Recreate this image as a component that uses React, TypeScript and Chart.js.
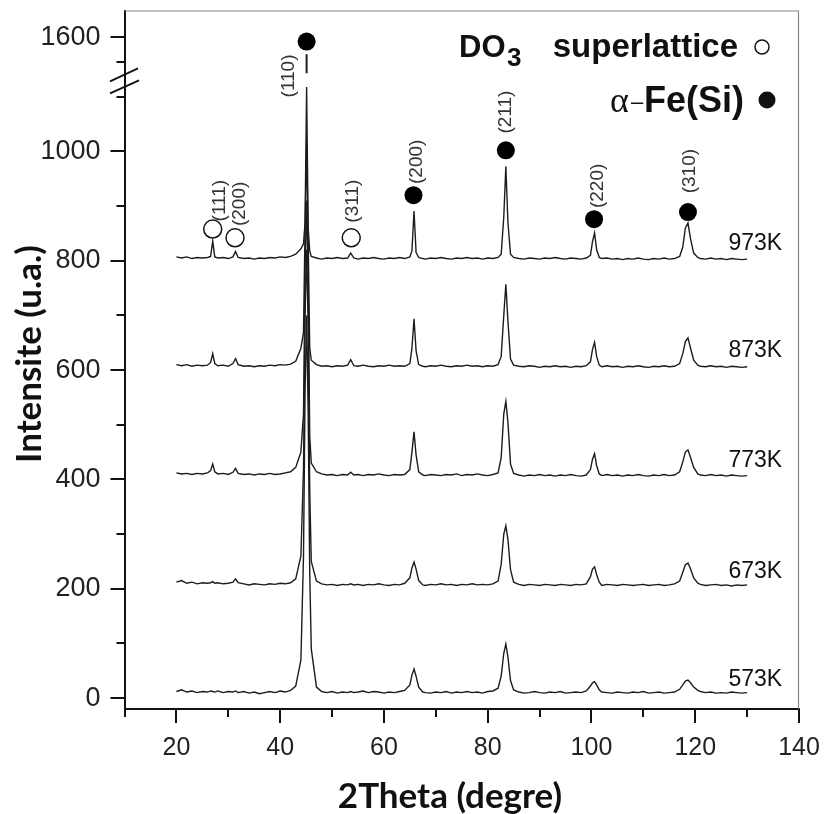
import React, { useEffect, useRef } from 'react';
import { Chart, registerables } from 'chart.js';

Chart.register(...registerables);

// 2-theta sampling grid (degrees)
const TWO_THETA = [
  20, 21, 22, 23, 24, 25, 26, 26.6, 27, 27.4,
  28, 29, 30, 30.9, 31.4, 31.9, 33, 34, 35, 36,
  37, 38, 39, 40, 41, 42, 43, 44, 44.5, 44.8,
  45.1, 45.4, 45.7, 46, 47, 48, 49, 50, 51, 52,
  53, 53.6, 54.2, 55, 56, 57, 58, 59, 60, 61,
  62, 63, 64, 65, 65.4, 65.8, 66.2, 66.7, 67.5, 68,
  69, 70, 71, 72, 73, 74, 75, 76, 77, 78,
  79, 80, 81, 82, 82.6, 83.1, 83.5, 83.9, 84.4, 85,
  86, 87, 88, 89, 90, 91, 92, 93, 94, 95,
  96, 97, 98, 99, 99.8, 100.2, 100.6, 101, 101.5, 102,
  103, 104, 105, 106, 107, 108, 109, 110, 111, 112,
  113, 114, 115, 116, 117, 117.6, 118.1, 118.6, 119.1, 119.7,
  120.5, 121, 122, 123, 124, 125, 126, 127, 128, 129,
  130,
];

const I_573K = [
  12, 15, 11, 13, 10, 12, 11, 13, 12, 11,
  13, 10, 12, 11, 13, 10, 12, 9, 11, 8,
  10, 12, 10, 13, 11, 14, 22, 70, 260, 560,
  700, 520, 230, 90, 20, 12, 10, 12, 9, 11,
  10, 12, 10, 11, 13, 10, 12, 11, 9, 11,
  10, 12, 14, 24, 42, 53, 40, 20, 11, 10,
  9, 11, 10, 12, 9, 11, 10, 12, 10, 11,
  9, 12, 13, 18, 40, 82, 99, 75, 32, 15,
  11, 9, 10, 12, 10, 9, 11, 10, 12, 9,
  10, 11, 10, 13, 22, 28, 30, 24, 15, 11,
  10, 9, 11, 10, 9, 11, 10, 12, 9, 10,
  11, 9, 10, 11, 16, 24, 31, 33, 28, 20,
  14, 12, 10, 11, 9, 10, 9, 11, 10, 9,
  10,
];

const I_673K = [
  212, 215, 210, 212, 209, 211, 210, 211, 213, 210,
  211, 209, 210, 212, 218, 211, 209, 207, 209, 208,
  207, 209, 208, 210, 209, 211, 218, 260, 420, 700,
  820, 680, 380, 250, 214, 209, 207, 208, 206, 208,
  207, 209, 207, 208, 206, 208, 207, 209, 207, 206,
  208, 207, 210, 220, 238, 249, 236, 215, 207, 206,
  208, 207, 209, 207, 208, 206, 208, 207, 209, 207,
  208, 207, 209, 214, 245, 300, 315, 290, 235, 212,
  208, 206, 208, 207, 206, 208, 207, 206, 208, 207,
  206, 208, 207, 209, 222, 236, 240, 226, 212, 206,
  208, 207, 206, 208, 207, 206, 207, 208, 206, 207,
  208, 206, 207, 209, 214, 230, 244, 247, 236, 220,
  210, 208, 206, 207, 208, 206, 207, 205, 207, 206,
  207,
];

const I_773K = [
  412, 410, 411, 409, 411, 410, 412, 416, 428, 414,
  410, 411, 409, 413, 420, 411, 409, 410, 408, 410,
  409, 411, 409, 410, 412, 414, 422, 450, 520, 780,
  910, 760, 480, 430, 414, 410, 408, 409, 407, 409,
  408, 413, 408, 409, 407, 409, 408, 410, 408, 407,
  409, 408, 409, 418, 450, 487, 445, 414, 408, 407,
  409, 408, 407, 409, 408, 410, 407, 409, 408, 410,
  408, 407, 409, 412, 440, 520, 543, 505, 428, 411,
  408, 406, 408, 407, 409, 407, 408, 406, 408, 407,
  409, 407, 406, 408, 418, 437, 447, 425, 410, 407,
  409, 407, 408, 406, 408, 407, 409, 407, 406, 408,
  407, 409, 407, 408, 414, 432, 450, 454, 440, 422,
  410, 408, 407, 409, 407, 408, 406, 408, 407, 406,
  407,
];

const I_873K = [
  610, 608, 610, 607, 609, 608, 609, 614, 630, 612,
  608, 609, 607, 612, 621, 610, 607, 608, 606, 608,
  607, 609, 608, 610, 609, 611, 616, 640, 669, 860,
  1013, 840, 640, 618, 610, 607, 608, 606, 608, 607,
  609, 619, 608, 607, 609, 607, 606, 608, 607, 609,
  607, 608, 607, 612, 640, 694, 635, 610, 607, 606,
  608, 607, 609, 607, 606, 608, 607, 609, 607, 608,
  606, 608, 607, 610, 625, 700, 757, 690, 620, 609,
  607, 606, 608, 607, 605, 607, 606, 608, 606, 607,
  605, 607, 606, 608, 615, 638, 651, 625, 609, 606,
  608, 606, 607, 605, 607, 606, 608, 606, 605, 607,
  606, 608, 606, 607, 612, 630, 652, 659, 640, 618,
  609, 607, 606, 608, 606, 607, 605, 607, 606, 605,
  606,
];

const I_973K = [
  807, 805, 807, 804, 806, 805, 806, 808, 836, 807,
  805, 806, 804, 807, 817, 806, 804, 805, 803, 805,
  804, 806, 805, 807, 806, 808, 812, 822, 831, 870,
  1118, 860, 818, 808, 805, 803, 805, 804, 806, 804,
  805, 814, 805, 803, 805, 804, 806, 804, 803, 805,
  804, 806, 804, 807, 818, 891, 815, 806, 804, 803,
  805, 804, 806, 804, 803, 805, 804, 806, 804, 805,
  803, 805, 804, 806, 812, 880, 973, 870, 812, 806,
  804, 803, 805, 804, 803, 805, 804, 806, 804, 803,
  805, 804, 803, 805, 810, 835, 851, 820, 806, 804,
  805, 803, 804, 802, 804, 803, 805, 803, 802, 804,
  803, 805, 803, 804, 808, 825, 860, 869, 840, 814,
  806, 804, 803, 805, 803, 804, 802, 804, 803, 802,
  803,
];

// (110) peak of the 973K pattern above the axis break
const PEAK_110_ABOVE_BREAK = [
  { x: 45.1, y: 1456 },
  { x: 45.1, y: 1532 },
];

const SERIES = [
  { label: '573K', values: I_573K, labelY: 34 },
  { label: '673K', values: I_673K, labelY: 231 },
  { label: '773K', values: I_773K, labelY: 435 },
  { label: '873K', values: I_873K, labelY: 636 },
  { label: '973K', values: I_973K, labelY: 831 },
];
const SERIES_LABEL_X = 126.4;

// phase markers
const DO3_MARKERS = [
  { x: 27.0, y: 858 },
  { x: 31.3, y: 842 },
  { x: 53.7, y: 842 },
];
const FE_MARKERS = [
  { x: 65.7, y: 920 },
  { x: 83.5, y: 1002 },
  { x: 100.5, y: 876 },
  { x: 118.6, y: 889 },
];
const FE_MARKER_ABOVE_BREAK = [{ x: 45.1, y: 1583 }];

// Miller index annotations
const HKL_LABELS = [
  { text: '(111)', x: 28.4, y: 910 },
  { text: '(200)', x: 32.3, y: 904 },
  { text: '(311)', x: 54.0, y: 909 },
  { text: '(110)', x: 41.7, y: 1138 },
  { text: '(200)', x: 66.4, y: 981 },
  { text: '(211)', x: 83.5, y: 1072 },
  { text: '(220)', x: 101.2, y: 937 },
  { text: '(310)', x: 119.0, y: 964 },
];

const X_TICKS = [10, 20, 30, 40, 50, 60, 70, 80, 90, 100, 110, 120, 130, 140];
const X_TICK_LABELS = [20, 40, 60, 80, 100, 120, 140];
const Y_TICKS_LOWER = [0, 100, 200, 300, 400, 500, 600, 700, 800, 900, 1000, 1100];
const Y_TICK_LABELS_LOWER = [0, 200, 400, 600, 800, 1000];
const Y_TICKS_UPPER = [1500, 1600];
const Y_TICK_LABELS_UPPER = [1600];

const X_TITLE = '2Theta (degre)';
const Y_TITLE = 'Intensite (u.a.)';

const SANS = '"Liberation Sans", Arial, sans-serif';

const decorPlugin = {
  id: 'decor',
  afterDraw(chart: any) {
    const { ctx, chartArea } = chart;
    const xs = chart.scales.x;
    const yl = chart.scales.y;
    const yu = chart.scales.yTop;
    const { left, right, top, bottom } = chartArea;
    ctx.save();

    // thin frame on top/right
    ctx.strokeStyle = '#858585';
    ctx.lineWidth = 1.2;
    ctx.beginPath();
    ctx.moveTo(left, top + 0.5);
    ctx.lineTo(right - 0.5, top + 0.5);
    ctx.lineTo(right - 0.5, bottom);
    ctx.stroke();

    const seg = (x1: number, y1: number, x2: number, y2: number) => {
      ctx.beginPath();
      ctx.moveTo(x1, y1);
      ctx.lineTo(x2, y2);
      ctx.stroke();
    };

    // tick marks
    ctx.strokeStyle = '#111';
    ctx.lineWidth = 2;
    X_TICKS.forEach((v) => {
      const p = Math.round(xs.getPixelForValue(v));
      const len = X_TICK_LABELS.includes(v) ? 14 : 8;
      seg(p, bottom, p, bottom + len);
    });
    Y_TICKS_LOWER.forEach((v) => {
      const p = Math.round(yl.getPixelForValue(v));
      const len = Y_TICK_LABELS_LOWER.includes(v) ? 14 : 8;
      seg(left, p, left - len, p);
    });
    Y_TICKS_UPPER.forEach((v) => {
      const p = Math.round(yu.getPixelForValue(v));
      const len = Y_TICK_LABELS_UPPER.includes(v) ? 14 : 8;
      seg(left, p, left - len, p);
    });

    // axis break marks
    const yb = yl.top;
    ctx.lineWidth = 1.8;
    seg(left - 14.5, yb + 1, left + 13.5, yb - 12);
    seg(left - 14.5, yb + 13, left + 14.5, yb);

    // Miller indices
    ctx.fillStyle = '#333';
    ctx.font = `19px ${SANS}`;
    ctx.textAlign = 'center';
    ctx.textBaseline = 'middle';
    HKL_LABELS.forEach((l) => {
      ctx.save();
      ctx.translate(xs.getPixelForValue(l.x), yl.getPixelForValue(l.y));
      ctx.rotate(-Math.PI / 2);
      ctx.fillText(l.text, 0, 0);
      ctx.restore();
    });

    // temperature labels
    ctx.fillStyle = '#111';
    ctx.font = `23px ${SANS}`;
    ctx.textAlign = 'left';
    SERIES.forEach((s) => {
      ctx.fillText(s.label, xs.getPixelForValue(SERIES_LABEL_X), yl.getPixelForValue(s.labelY));
    });

    // legend
    ctx.textBaseline = 'alphabetic';
    ctx.fillStyle = '#111';
    ctx.font = `bold 31px ${SANS}`;
    ctx.fillText('DO', 459, 57);
    ctx.font = `bold 26px ${SANS}`;
    ctx.fillText('3', 507, 66);
    ctx.font = `bold 33px ${SANS}`;
    ctx.textAlign = 'right';
    ctx.fillText('superlattice', 738, 57);
    ctx.textAlign = 'left';
    ctx.lineWidth = 1.5;
    ctx.strokeStyle = '#111';
    ctx.beginPath();
    ctx.arc(762, 47, 7, 0, Math.PI * 2);
    ctx.stroke();
    ctx.font = `36px "Liberation Serif", serif`;
    ctx.fillText('\u03b1', 610, 112);
    ctx.font = `22px ${SANS}`;
    ctx.fillText('\u2013', 631, 109);
    ctx.font = `bold 36px ${SANS}`;
    ctx.textAlign = 'right';
    ctx.fillText('Fe(Si)', 744, 112);
    ctx.beginPath();
    ctx.arc(767, 100, 8.5, 0, Math.PI * 2);
    ctx.fill();

    // axis titles
    ctx.font = `bold 35px Lato, ${SANS}`;
    ctx.textAlign = 'center';
    ctx.textBaseline = 'middle';
    ctx.fillText(X_TITLE, 450, 797);
    ctx.save();
    ctx.translate(30, 354);
    ctx.rotate(-Math.PI / 2);
    ctx.fillText(Y_TITLE, 0, 0);
    ctx.restore();

    ctx.restore();
  },
};

export default function App() {
  const canvasRef = useRef<HTMLCanvasElement | null>(null);

  useEffect(() => {
    const canvas = canvasRef.current;
    if (!canvas) return;

    const lineDatasets = SERIES.map((s) => ({
      label: s.label,
      data: TWO_THETA.map((x, i) => ({ x, y: s.values[i] })),
      borderColor: '#1c1c1c',
      borderWidth: 1.4,
      pointRadius: 0,
      tension: 0,
      fill: false,
      yAxisID: 'y',
      order: 3,
    }));

    const chart = new Chart(canvas, {
      type: 'line',
      data: {
        datasets: [
          {
            label: 'DO3 superlattice',
            data: DO3_MARKERS,
            showLine: false,
            pointRadius: 9,
            pointBorderWidth: 1.5,
            pointBackgroundColor: '#ffffff',
            pointBorderColor: '#111',
            yAxisID: 'y',
            order: 0,
          },
          {
            label: 'alpha-Fe(Si)',
            data: FE_MARKERS,
            showLine: false,
            pointRadius: 9,
            pointBorderWidth: 0,
            pointBackgroundColor: '#000',
            pointBorderColor: '#000',
            yAxisID: 'y',
            order: 0,
          },
          {
            label: 'alpha-Fe(Si) (110)',
            data: FE_MARKER_ABOVE_BREAK,
            showLine: false,
            pointRadius: 9,
            pointBorderWidth: 0,
            pointBackgroundColor: '#000',
            pointBorderColor: '#000',
            yAxisID: 'yTop',
            order: 0,
          },
          {
            label: '973K (110) above break',
            data: PEAK_110_ABOVE_BREAK,
            borderColor: '#1c1c1c',
            borderWidth: 2,
            pointRadius: 0,
            yAxisID: 'yTop',
            order: 1,
          },
          ...lineDatasets,
        ] as any,
      },
      options: {
        animation: false,
        responsive: false,
        maintainAspectRatio: false,
        devicePixelRatio: 1,
        layout: { padding: { top: 9, right: 26, left: 0, bottom: 0 } },
        plugins: {
          legend: { display: false },
          tooltip: { enabled: false },
          title: { display: false },
        },
        scales: {
          x: {
            type: 'linear',
            position: 'bottom',
            min: 10,
            max: 140,
            grid: { display: false, drawTicks: false },
            border: { display: true, width: 2, color: '#111' },
            afterBuildTicks: (s: any) => {
              s.ticks = X_TICKS.map((v) => ({ value: v }));
            },
            afterFit: (s: any) => {
              s.height = 105;
              s.paddingLeft = 0;
              s.paddingRight = 0;
            },
            ticks: {
              autoSkip: false,
              maxRotation: 0,
              padding: 24,
              color: '#222',
              font: { family: SANS, size: 25 },
              callback: (v: any) => (X_TICK_LABELS.includes(Number(v)) ? String(v) : ''),
            },
          },
          y: {
            type: 'linear',
            position: 'left',
            stack: 'intensity',
            stackWeight: 9,
            min: -20,
            max: 1130,
            grid: { display: false, drawTicks: false },
            border: { display: true, width: 2, color: '#111' },
            afterBuildTicks: (s: any) => {
              s.ticks = Y_TICKS_LOWER.map((v) => ({ value: v }));
            },
            afterFit: (s: any) => {
              s.width = 124.5;
              s.paddingTop = 0;
              s.paddingBottom = 0;
            },
            ticks: {
              autoSkip: false,
              padding: 24,
              color: '#222',
              font: { family: SANS, size: 27 },
              callback: (v: any) => (Y_TICK_LABELS_LOWER.includes(Number(v)) ? String(v) : ''),
            },
          },
          yTop: {
            type: 'linear',
            position: 'left',
            stack: 'intensity',
            stackWeight: 1,
            min: 1428,
            max: 1707,
            grid: { display: false, drawTicks: false },
            border: { display: true, width: 2, color: '#111' },
            afterBuildTicks: (s: any) => {
              s.ticks = Y_TICKS_UPPER.map((v) => ({ value: v }));
            },
            afterFit: (s: any) => {
              s.width = 124.5;
              s.paddingTop = 0;
              s.paddingBottom = 0;
            },
            ticks: {
              autoSkip: false,
              padding: 24,
              color: '#222',
              font: { family: SANS, size: 27 },
              callback: (v: any) => (Y_TICK_LABELS_UPPER.includes(Number(v)) ? String(v) : ''),
            },
          },
        },
      } as any,
      plugins: [decorPlugin],
    });

    return () => chart.destroy();
  }, []);

  return (
    <div style={{ position: 'fixed', left: 0, top: 0, width: 825, height: 814, background: '#fff' }}>
      <canvas ref={canvasRef} width={825} height={814} style={{ width: 825, height: 814, display: 'block' }} />
    </div>
  );
}
